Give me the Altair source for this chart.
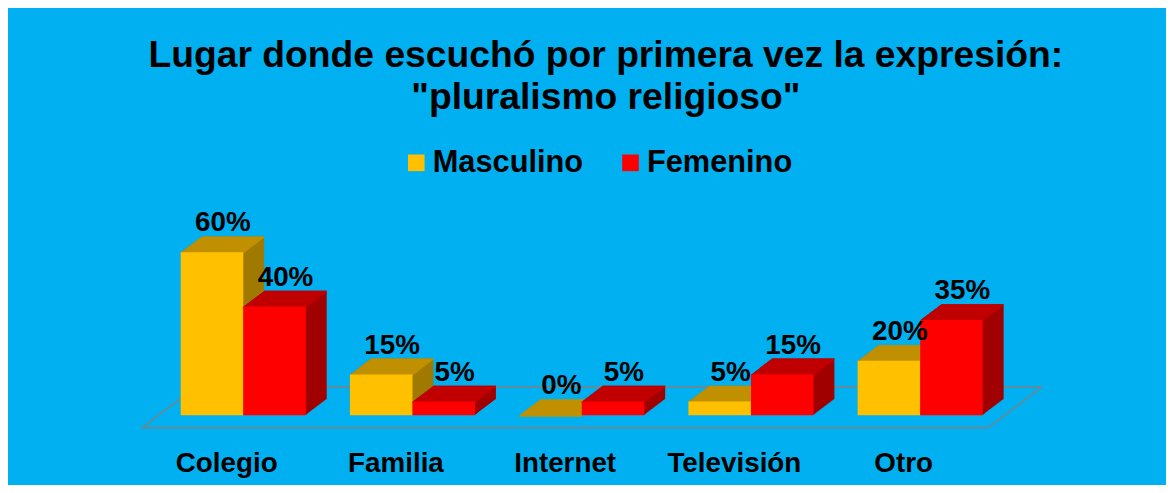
import altair as alt
import pandas as pd

categorias = ["Colegio", "Familia", "Internet", "Televisión", "Otro"]
masculino = [60, 15, 0, 5, 20]
femenino = [40, 5, 5, 15, 35]
series = ["Masculino", "Femenino"]
colores_frente = ["#FFC000", "#FF0000"]
colores_arriba = ["#C09000", "#C00000"]
colores_lado = ["#A07A00", "#A00000"]
titulo = ["Lugar donde escuchó por primera vez la expresión:", "\"pluralismo religioso\""]

rows = []
for c, m, f in zip(categorias, masculino, femenino):
    rows.append({"lugar": c, "sexo": series[0], "valor": m})
    rows.append({"lugar": c, "sexo": series[1], "valor": f})
df = pd.DataFrame(rows)

FONT = "Liberation Sans"
W, H = 852, 164
BAR_W = 63
DX0, DY0 = 16.7, -12.7      # front face shift (bars sit mid-depth on the floor)
DEPTH = 21                  # bar depth in px (x direction)
SLOPE = 0.76
FLOOR_DX, FLOOR_DY = 54, -41

x = alt.X("lugar:N", sort=categorias, title=None,
          scale=alt.Scale(paddingInner=0.26, paddingOuter=0.13),
          axis=alt.Axis(labelFont=FONT, labelFontSize=28, labelFontWeight="bold",
                        labelColor="black", labelAngle=0, ticks=False, domain=False,
                        grid=False, labelPadding=22))
y = alt.Y("valor:Q", scale=alt.Scale(domain=[0, 60], nice=False), axis=None)
color = alt.Color("sexo:N", sort=series,
                  scale=alt.Scale(domain=series, range=colores_frente),
                  legend=alt.Legend(orient="none", legendX=260.6, legendY=-118.5,
                                    direction="horizontal", title=None,
                                    symbolType="square", symbolSize=280,
                                    symbolStrokeWidth=0, labelFont=FONT,
                                    labelFontSize=31, labelFontWeight="bold",
                                    labelColor="black", labelOffset=1,
                                    columnPadding=31.7, padding=0))

floor_src = pd.DataFrame({"k": [0]})
gris = "#808080"
floor = [
    alt.Chart(floor_src).mark_rule(color=gris, strokeWidth=1.5).encode(
        x=alt.value(0), x2=alt.value(W), y=alt.value(H)),
    alt.Chart(floor_src).mark_rule(color=gris, strokeWidth=1.5).encode(
        x=alt.value(FLOOR_DX), x2=alt.value(W + FLOOR_DX), y=alt.value(H + FLOOR_DY)),
    alt.Chart(floor_src).mark_rule(color=gris, strokeWidth=1.5).encode(
        x=alt.value(0), y=alt.value(H), x2=alt.value(FLOOR_DX), y2=alt.value(H + FLOOR_DY)),
    alt.Chart(floor_src).mark_rule(color=gris, strokeWidth=1.5).encode(
        x=alt.value(W), y=alt.value(H), x2=alt.value(W + FLOOR_DX), y2=alt.value(H + FLOOR_DY)),
]

layers = list(floor)
for i, s in enumerate(series):
    off = (i - 0.5) * BAR_W          # side-by-side position inside the category band
    b = alt.Chart(df).transform_filter(alt.datum.sexo == s)
    # side face (extrusion toward the back-right)
    for k in range(1, DEPTH + 1):
        dy = DY0 - SLOPE * k
        layers.append(b.mark_bar(color=colores_lado[i], width=BAR_W,
                                 xOffset=off + DX0 + k, yOffset=dy, y2Offset=dy)
                      .encode(x=x, y=y))
    # top face (thin strip at the top, extruded)
    for k in range(0, DEPTH + 1):
        dy = DY0 - SLOPE * k
        layers.append(b.transform_calculate(tope="datum.valor - 0.55")
                      .mark_bar(color=colores_arriba[i], width=BAR_W,
                                xOffset=off + DX0 + k, yOffset=dy, y2Offset=dy)
                      .encode(x=x, y=y, y2="tope:Q"))
    # front face
    layers.append(b.mark_bar(width=BAR_W, xOffset=off + DX0, yOffset=DY0, y2Offset=DY0)
                  .encode(x=x, y=y, color=color))

for i, s in enumerate(series):
    off = (i - 0.5) * BAR_W
    layers.append(alt.Chart(df)
                  .transform_filter(alt.datum.sexo == s)
                  .transform_calculate(etiqueta="datum.valor + '%'")
                  .mark_text(font=FONT, fontSize=28, fontWeight="bold", color="black",
                             baseline="alphabetic", dx=off + DX0 + 11, dy=DY0 - 21)
                  .encode(x=x, y=y, text="etiqueta:N"))

chart = (alt.layer(*layers)
         .properties(width=W, height=H, background="#00B0F0",
                     padding={"left": 135, "top": 257, "right": 179, "bottom": 56},
                     autosize=alt.AutoSizeParams(type="none"),
                     title=alt.TitleParams(text=titulo, font=FONT, fontSize=37.5,
                                           fontWeight="bold", color="black",
                                           anchor="middle", dx=41, offset=31,
                                           lineHeight=42))
         .configure_view(stroke=None))

chart.save("out.html", embed_options={"renderer": "svg", "actions": False})
